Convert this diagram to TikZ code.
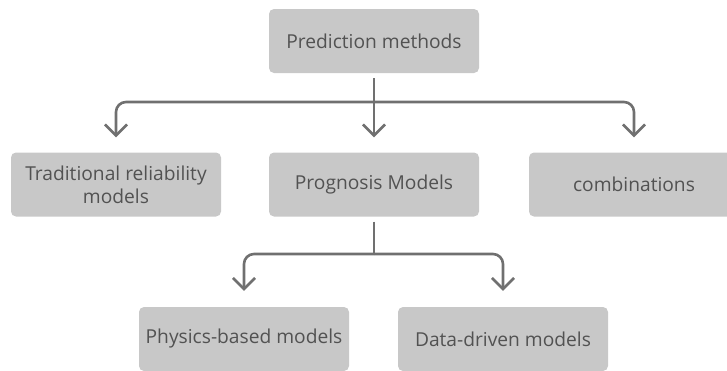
\documentclass[tikz,border=0pt]{standalone}
\usepackage{fontspec}
\setmainfont{Open Sans}
\usetikzlibrary{arrows.meta}
\definecolor{boxgray}{RGB}{200,200,200}
\definecolor{inkgray}{RGB}{82,82,82}
\definecolor{linegray}{RGB}{112,112,112}
\tikzset{
  box/.style={draw=none, fill=boxgray, rounded corners=5pt,
    minimum width=210pt, minimum height=64pt, inner sep=0pt,
    text=inkgray, font=\fontsize{19.2}{23}\selectfont, align=center},
  conn/.style={draw=linegray, line width=2.6pt},
  tip/.style={-{Straight Barb[length=11pt,width=22pt,line width=2.6pt]}},
}
\begin{document}
\begin{tikzpicture}[x=1pt,y=1pt]
  \useasboundingbox (0,0) rectangle (727,-370);
  \clip (0,0) rectangle (727,-370);

  % nodes
  \node[box] (top)  at (374,-41)    {Prediction methods};
  \node[box] (trad) at (116,-184.5) {Traditional reliability\\models};
  \node[box] (prog) at (374,-184.5) {Prognosis Models};
  \node[box] (comb) at (634,-184.5) {combinations};
  \node[box] (phys) at (244,-339)   {Physics-based models};
  \node[box] (data) at (503,-339)   {Data-driven models};

  % branch points
  \coordinate (bus1) at (374,-102);
  \coordinate (bus2) at (374,-254);

  % first level
  \draw[conn] ([yshift=-5pt]top.south) -- (bus1);
  \draw[conn,tip,rounded corners=10pt] (bus1) -| ([yshift=15pt]trad.north);
  \draw[conn,tip] (bus1) -- ([yshift=15pt]prog.north);
  \draw[conn,tip,rounded corners=10pt] (bus1) -| ([yshift=15pt]comb.north);

  % second level
  \draw[conn] ([yshift=-5pt]prog.south) -- (bus2);
  \draw[conn,tip,rounded corners=10pt] (bus2) -| ([yshift=16pt]phys.north);
  \draw[conn,tip,rounded corners=10pt] (bus2) -| ([yshift=16pt]data.north);
\end{tikzpicture}
\end{document}
